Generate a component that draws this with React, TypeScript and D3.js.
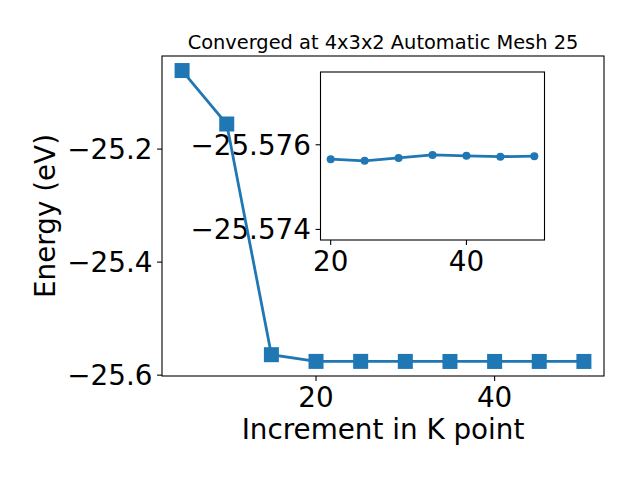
import React from "react";
import * as d3 from "d3";

const kPoints = [5, 10, 15, 20, 25, 30, 35, 40, 45, 50];
const energies = [-25.061, -25.1556, -25.5638, -25.57566, -25.57562, -25.57569, -25.57576, -25.57574, -25.57572, -25.57573];
const insetK = [20, 25, 30, 35, 40, 45, 50];
const insetEnergies = [-25.57566, -25.57562, -25.57569, -25.57576, -25.57574, -25.57572, -25.57573];
const mainXTicks = [20, 40];
const mainYTicks = [-25.2, -25.4, -25.6];
const insetXTicks = [20, 40];
const insetYTicks = [-25.576, -25.574];
const insetYLimits = [-25.57375, -25.57772];
const titleText = "Converged at 4x3x2 Automatic Mesh 25";
const xLabel = "Increment in K point";
const yLabel = "Energy (eV)";

const BLUE = "#1f77b4";
const FONT = "DejaVu Sans";
const fmt = (v: number, d: number) => v.toFixed(d).replace("-", "\u2212");

function padDomain(vals: number[]): [number, number] {
  const [a, b] = d3.extent(vals) as [number, number];
  const p = (b - a) * 0.05;
  return [a - p, b + p];
}

export default function App() {
  const M = { left: 162, right: 604, top: 56, bottom: 376 };
  const x = d3.scaleLinear().domain(padDomain(kPoints)).range([M.left, M.right]);
  const y = d3.scaleLinear().domain(padDomain(energies)).range([M.bottom, M.top]);

  const I = { left: 320.5, right: 544.5, top: 72, bottom: 240 };
  const ix = d3.scaleLinear().domain(padDomain(insetK)).range([I.left, I.right]);
  const iy = d3.scaleLinear().domain(insetYLimits).range([I.bottom, I.top]);

  const line = d3.line<number>().x((_, i) => x(kPoints[i])).y((d) => y(d));
  const iline = d3.line<number>().x((_, i) => ix(insetK[i])).y((d) => iy(d));

  const tickLen = 4.9;
  const fs = 27.8;
  const sq = 15;

  return (
    <svg width={640} height={480} style={{ position: "absolute", left: 0, top: 0, background: "#fff" }} fontFamily={FONT}>
      <rect x={0} y={0} width={640} height={480} fill="#fff" />
      {/* main frame */}
      <rect x={M.left} y={M.top} width={M.right - M.left} height={M.bottom - M.top} fill="#fff" stroke="#000" strokeWidth={1.1} />
      {mainXTicks.map((t) => (
        <g key={"mx" + t}>
          <line x1={x(t)} x2={x(t)} y1={M.bottom} y2={M.bottom + tickLen} stroke="#000" strokeWidth={1.1} />
          <text x={x(t)} y={407} fontSize={fs} textAnchor="middle" fill="#000">{t}</text>
        </g>
      ))}
      {mainYTicks.map((t) => (
        <g key={"my" + t}>
          <line x1={M.left - tickLen} x2={M.left} y1={y(t)} y2={y(t)} stroke="#000" strokeWidth={1.1} />
          <text x={152.5} y={y(t) + 10} fontSize={fs} textAnchor="end" fill="#000">{fmt(t, 1)}</text>
        </g>
      ))}
      <text x={(M.left + M.right) / 2} y={439} fontSize={fs} textAnchor="middle" fill="#000">{xLabel}</text>
      <text transform={`translate(55,${(M.top + M.bottom) / 2}) rotate(-90)`} fontSize={fs} textAnchor="middle" fill="#000">{yLabel}</text>
      <text x={(M.left + M.right) / 2} y={48.5} fontSize={19.4} textAnchor="middle" fill="#000">{titleText}</text>

      {/* inset */}
      <rect x={I.left} y={I.top} width={I.right - I.left} height={I.bottom - I.top} fill="#fff" stroke="#000" strokeWidth={1.1} />
      {insetXTicks.map((t) => (
        <g key={"ix" + t}>
          <line x1={ix(t)} x2={ix(t)} y1={I.bottom} y2={I.bottom + tickLen} stroke="#000" strokeWidth={1.1} />
          <text x={ix(t)} y={271} fontSize={fs} textAnchor="middle" fill="#000">{t}</text>
        </g>
      ))}
      {insetYTicks.map((t) => (
        <g key={"iy" + t}>
          <line x1={I.left - tickLen} x2={I.left} y1={iy(t)} y2={iy(t)} stroke="#000" strokeWidth={1.1} />
          <text x={311} y={iy(t) + 10} fontSize={fs} textAnchor="end" fill="#000">{fmt(t, 3)}</text>
        </g>
      ))}
      <path d={iline(insetEnergies) || ""} fill="none" stroke={BLUE} strokeWidth={2.8} />
      {insetEnergies.map((e, i) => (
        <circle key={"ic" + i} cx={ix(insetK[i])} cy={iy(e)} r={4} fill={BLUE} />
      ))}

      {/* main data */}
      <path d={line(energies) || ""} fill="none" stroke={BLUE} strokeWidth={2.8} />
      {energies.map((e, i) => (
        <rect key={"sq" + i} x={x(kPoints[i]) - sq / 2} y={y(e) - sq / 2} width={sq} height={sq} fill={BLUE} />
      ))}
    </svg>
  );
}
